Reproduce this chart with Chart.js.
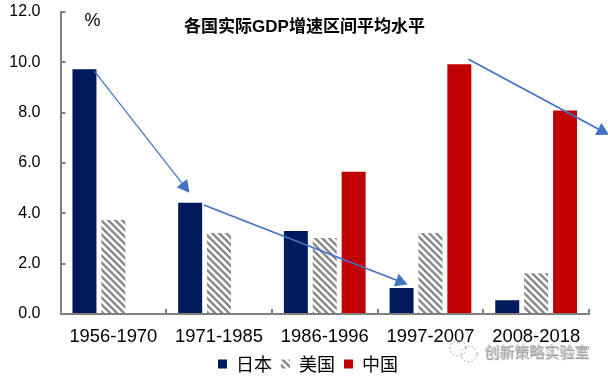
<!DOCTYPE html>
<html>
<head>
<meta charset="utf-8">
<style>
  html, body { margin: 0; padding: 0; background: #fff; }
  #wrap { width: 608px; height: 379px; overflow: hidden; }
</style>
<script src="https://cdn.jsdelivr.net/npm/chart.js@4"></script>
</head>
<body>
<div id="wrap"><canvas id="gdpChart" width="608" height="379"></canvas></div>
<script>
const categories = ['1956-1970', '1971-1985', '1986-1996', '1997-2007', '2008-2018']
const japan = [9.73, 4.42, 3.3, 1.03, 0.55]
const usa = [3.74, 3.22, 3.02, 3.22, 1.62]
const china = [null, null, 5.65, 9.92, 8.09]
const seriesNames = ['日本', '美国', '中国']
const chartTitle = '各国实际GDP增速区间平均水平'
const unitLabel = '%'
const watermark = '创新策略实验室'

// arrows: [from category pos, from value, to category pos, to value, line width]
const arrows = [
  [-0.18, 9.65, 0.72, 4.82, 1.2],
  [0.856, 4.33, 2.785, 1.17, 1.8],
  [3.36, 10.12, 4.69, 7.12, 1.8]
]

const latin = '"Liberation Sans", "Noto Sans CJK SC", sans-serif'

// Diagonal hatch for the US bars
function hatch() {
  const tile = document.createElement('canvas')
  tile.width = 7
  tile.height = 7
  const c = tile.getContext('2d')
  c.strokeStyle = '#8c8c8c'
  c.lineWidth = 2.6
  c.beginPath()
  for (let i = -7; i <= 7; i += 7) {
    c.moveTo(i - 1, -1)
    c.lineTo(i + 8, 8)
  }
  c.stroke()
  return document.getElementById('gdpChart').getContext('2d').createPattern(tile, 'repeat')
}

const overlay = {
  id: 'overlay',
  // Legend sits centred under the bars, not under the whole canvas
  afterLayout(chart) {
    chart.legend.left += 27
  },
  afterDatasetsDraw(chart) {
    const { ctx, scales } = chart
    ctx.save()

    // Trend arrows, placed through the chart scales
    arrows.forEach(([x0, y0, x1, y1, w]) => {
      const ax = scales.x.getPixelForValue(x0)
      const ay = scales.y.getPixelForValue(y0)
      const bx = scales.x.getPixelForValue(x1)
      const by = scales.y.getPixelForValue(y1)
      const angle = Math.atan2(by - ay, bx - ax)
      const head = 14
      ctx.strokeStyle = '#4472c4'
      ctx.fillStyle = '#4472c4'
      ctx.lineWidth = w
      ctx.beginPath()
      ctx.moveTo(ax, ay)
      ctx.lineTo(bx - Math.cos(angle) * head * 0.8, by - Math.sin(angle) * head * 0.8)
      ctx.stroke()
      ctx.beginPath()
      ctx.moveTo(bx, by)
      ctx.lineTo(bx - head * Math.cos(angle - 0.5), by - head * Math.sin(angle - 0.5))
      ctx.lineTo(bx - head * Math.cos(angle + 0.5), by - head * Math.sin(angle + 0.5))
      ctx.closePath()
      ctx.fill()
    })

    ctx.textBaseline = 'middle'
    ctx.fillStyle = '#000'
    ctx.textAlign = 'center'
    ctx.font = 'bold 17px ' + latin
    ctx.fillText(chartTitle, 304.5, 27)
    ctx.font = '18px ' + latin
    ctx.fillText(unitLabel, 92.5, 21)

    // Watermark
    ctx.textAlign = 'left'
    ctx.font = '15px "Noto Sans CJK SC", sans-serif'
    ctx.shadowColor = 'rgba(90,90,90,0.7)'
    ctx.shadowBlur = 1
    ctx.shadowOffsetX = 1
    ctx.shadowOffsetY = 1
    ctx.fillStyle = '#c4c4c4'
    ctx.fillText(watermark, 484, 351)
    ctx.shadowColor = 'transparent'
    ctx.strokeStyle = '#a6a6a6'
    ctx.lineWidth = 1
    ctx.setLineDash([2, 2])
    ctx.beginPath()
    ctx.arc(458, 348, 8, 0, Math.PI * 2)
    ctx.stroke()
    ctx.beginPath()
    ctx.arc(469, 354, 8, 0, Math.PI * 2)
    ctx.stroke()
    ctx.restore()
  }
}

new Chart(document.getElementById('gdpChart'), {
  type: 'bar',
  data: {
    labels: categories,
    datasets: [
      { label: seriesNames[0], data: japan, backgroundColor: '#001a5e' },
      { label: seriesNames[1], data: usa, backgroundColor: hatch() },
      { label: seriesNames[2], data: china, backgroundColor: '#c00000' }
    ]
  },
  plugins: [overlay],
  options: {
    responsive: false,
    animation: false,
    categoryPercentage: 0.82,
    barPercentage: 0.83,
    layout: { padding: { left: 0, right: 19, top: 12, bottom: -4 } },
    plugins: {
      title: { display: false },
      tooltip: { enabled: false },
      legend: {
        position: 'bottom',
        labels: {
          boxWidth: 9,
          boxHeight: 9,
          padding: 9,
          color: '#000',
          font: { size: 18, family: '"Noto Sans CJK SC", sans-serif' }
        }
      }
    },
    scales: {
      x: {
        afterFit: (scale) => { scale.height = 32 },
        border: { color: '#7f7f7f', width: 2 },
        grid: { drawOnChartArea: false, color: '#7f7f7f', lineWidth: 2, tickLength: -5 },
        ticks: {
          color: '#000',
          padding: 17,
          maxRotation: 0,
          font: { size: 18.4, family: latin }
        }
      },
      y: {
        min: 0,
        max: 12,
        afterFit: (scale) => {
          scale.width = 60.5
          scale.paddingTop = 0
          scale.paddingBottom = 0
        },
        border: { color: '#7f7f7f', width: 2 },
        grid: { drawOnChartArea: false, color: '#7f7f7f', lineWidth: 2, tickLength: -5 },
        ticks: {
          stepSize: 2,
          color: '#000',
          padding: 25,
          font: { size: 16, family: latin },
          callback: (value) => value.toFixed(1)
        }
      }
    }
  }
})
</script>
</body>
</html>
